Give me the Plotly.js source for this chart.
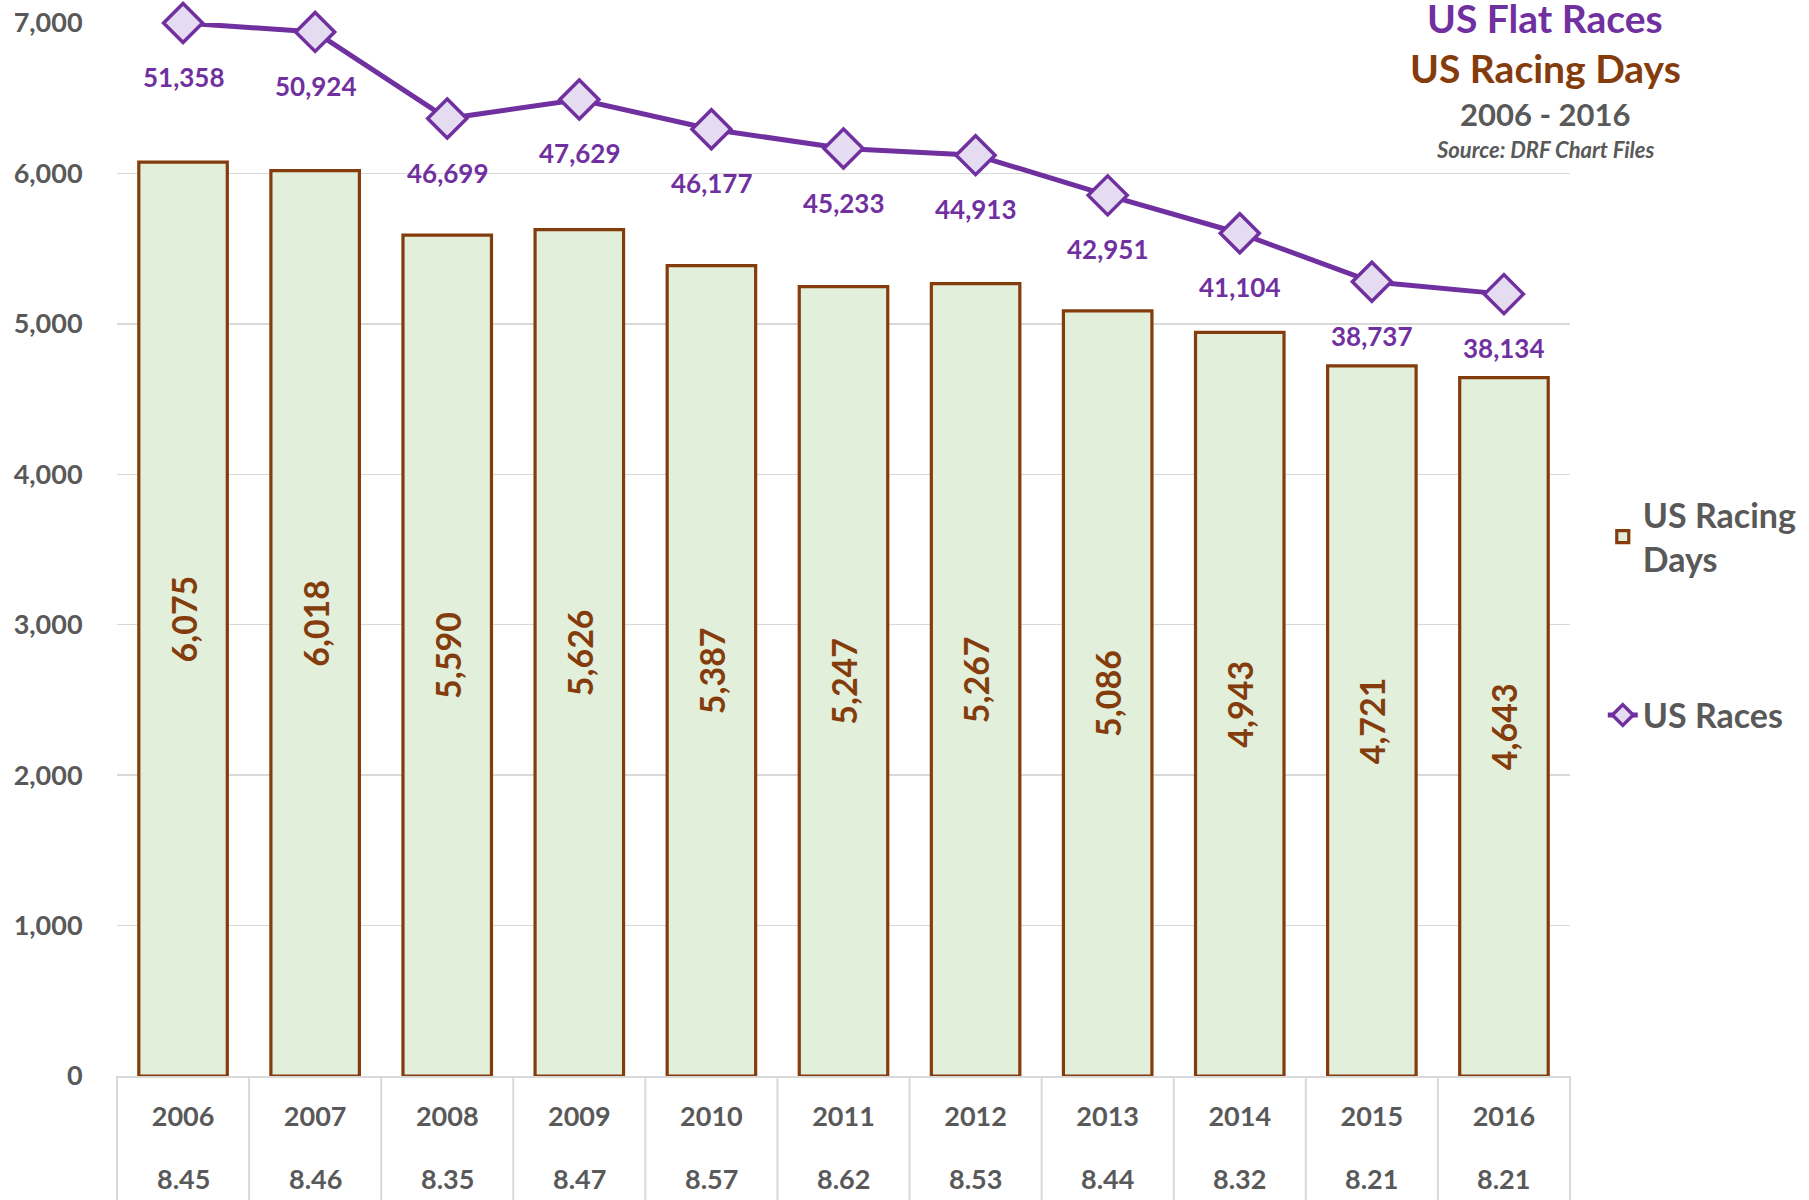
<!DOCTYPE html>
<html><head><meta charset="utf-8">
<script src="https://cdn.plot.ly/plotly-3.0.1.min.js"></script>
<style>html,body{margin:0;padding:0;background:#fff}#chart{width:1809px;height:1200px}</style>
</head><body><div id="chart"></div>
<script>
const years = ['2006','2007','2008','2009','2010','2011','2012','2013','2014','2015','2016'];
const racingDays = [6075,6018,5590,5626,5387,5247,5267,5086,4943,4721,4643];
const races = [51358,50924,46699,47629,46177,45233,44913,42951,41104,38737,38134];
const racesPerDay = ['8.45','8.46','8.35','8.47','8.57','8.62','8.53','8.44','8.32','8.21','8.21'];
const yTicks = [0,1000,2000,3000,4000,5000,6000,7000];

const FONT = 'Lato, "Open Sans", sans-serif';
const GRAY = '#595959', PURPLE = '#7030A0', BROWN = '#843C0C';
const fmt = v => v.toLocaleString('en-US');
const n = years.length;

const barTrace = {
  type: 'bar', name: 'US Racing<br>Days', x: years, y: racingDays,
  marker: {color: '#E2EFDA', line: {color: BROWN, width: 3.2}},
  text: racingDays.map(fmt), textposition: 'inside', insidetextanchor: 'middle',
  textangle: -90, constraintext: 'none',
  textfont: {family: FONT, size: 34, color: BROWN, weight: 'bold'},
  hoverinfo: 'skip', legend: 'legend'
};
const lineTrace = {
  type: 'scatter', mode: 'lines+markers', name: 'US Races', x: years, y: races, yaxis: 'y2',
  line: {color: PURPLE, width: 5},
  marker: {symbol: 'diamond', size: 30, color: '#E6DCF2', line: {color: PURPLE, width: 3.5}},
  cliponaxis: false, hoverinfo: 'skip', legend: 'legend2'
};

const shapes = [];
for (let i = 0; i <= n; i++) {
  shapes.push({type: 'line', xref: 'paper', yref: 'paper', x0: i / n, x1: i / n, y0: 0, y1: -0.12,
    line: {color: '#D9D9D9', width: 2}, layer: 'below'});
}

const annotations = races.map((v, i) => ({
  x: i, y: v, xref: 'x', yref: 'y2', text: fmt(v), showarrow: false,
  yshift: -54, font: {family: FONT, size: 26, color: PURPLE, weight: 'bold'}
}));
racesPerDay.forEach((r, i) => annotations.push({
  x: i, y: 0, xref: 'x', yref: 'paper', text: r, showarrow: false, yanchor: 'middle',
  yshift: -102, font: {family: FONT, size: 27, color: GRAY, weight: 'bold'}
}));
const tX = 0.983;
annotations.push(
  {xref: 'paper', yref: 'paper', x: tX, xanchor: 'center', y: 1.005, yanchor: 'middle', showarrow: false, text: 'US Flat Races',
   font: {family: FONT, size: 39, color: PURPLE, weight: 'bold'}, bgcolor: '#ffffff', borderpad: 1},
  {xref: 'paper', yref: 'paper', x: tX, xanchor: 'center', y: 0.9575, yanchor: 'middle', showarrow: false, text: 'US Racing Days',
   font: {family: FONT, size: 39, color: BROWN, weight: 'bold'}},
  {xref: 'paper', yref: 'paper', x: tX, xanchor: 'center', y: 0.9136, yanchor: 'middle', showarrow: false, text: '2006 - 2016',
   font: {family: FONT, size: 31, color: GRAY, weight: 'bold'}},
  {xref: 'paper', yref: 'paper', x: tX, xanchor: 'center', y: 0.8795, yanchor: 'middle', showarrow: false, text: 'Source: DRF Chart Files',
   font: {family: FONT, size: 22, color: GRAY, weight: 'bold', style: 'italic'}}
);

const layout = {
  width: 1809, height: 1200,
  margin: {l: 117, r: 239, t: 23, b: 124},
  paper_bgcolor: '#ffffff', plot_bgcolor: '#ffffff',
  font: {family: FONT, color: GRAY},
  bargap: 0.33,
  showlegend: true,
  xaxis: {
    type: 'category', categoryorder: 'array', categoryarray: years,
    range: [-0.5, n - 0.5], autorange: false,
    tickvals: years, ticktext: years, tickangle: 0,
    showline: true, linecolor: '#D9D9D9', linewidth: 2,
    ticks: 'outside', ticklen: 16, tickcolor: 'rgba(0,0,0,0)',
    tickfont: {family: FONT, size: 27, color: GRAY, weight: 'bold'},
    showgrid: false, zeroline: false, fixedrange: true
  },
  yaxis: {
    range: [0, 7000], autorange: false, tickvals: yTicks, tickformat: ',',
    showgrid: true, gridcolor: '#D9D9D9', gridwidth: 1.5, zeroline: false, showline: false,
    ticks: 'outside', ticklen: 28, tickcolor: 'rgba(0,0,0,0)',
    tickfont: {family: FONT, size: 27, color: GRAY, weight: 'bold'}
  },
  yaxis2: {
    overlaying: 'y', side: 'right', range: [0, Math.max(...races)], autorange: false,
    showgrid: false, zeroline: false, showticklabels: false, showline: false, ticks: ''
  },
  legend: {
    xref: 'container', yref: 'container', x: 0.886, y: 0.595, xanchor: 'left', yanchor: 'top',
    font: {family: FONT, size: 34, color: GRAY, weight: 'bold'}, bgcolor: 'rgba(0,0,0,0)'
  },
  legend2: {
    xref: 'container', yref: 'container', x: 0.886, y: 0.428, xanchor: 'left', yanchor: 'top',
    font: {family: FONT, size: 34, color: GRAY, weight: 'bold'}, bgcolor: 'rgba(0,0,0,0)'
  },
  shapes: shapes,
  annotations: annotations
};

Plotly.newPlot('chart', [barTrace, lineTrace], layout, {displayModeBar: false, staticPlot: true});
</script>
</body></html>
